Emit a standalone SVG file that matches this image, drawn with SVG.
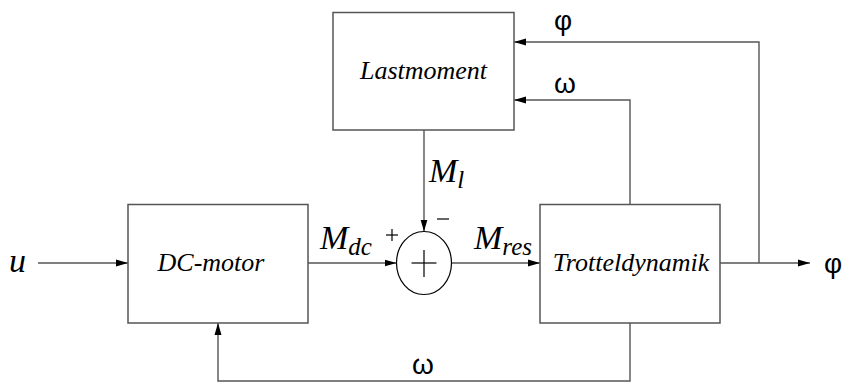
<svg xmlns="http://www.w3.org/2000/svg" width="844" height="383" viewBox="0 0 844 383">
  <defs>
    <marker id="arr" markerUnits="userSpaceOnUse" markerWidth="13" markerHeight="8" refX="12" refY="4" orient="auto">
      <path d="M0,0.5 L12,4 L0,7.5 Z" fill="#000"/>
    </marker>
  </defs>
  <style>
    .box { fill: #fff; stroke: #555; stroke-width: 1.5; }
    .wire { fill: none; stroke: #555; stroke-width: 1.4; }
    .lbl { font-family: "Liberation Serif", "Times New Roman", serif; font-style: italic; font-size: 26px; fill: #000; }
    .sym { font-family: "Liberation Serif", "Times New Roman", serif; font-style: italic; font-size: 34px; fill: #000; }
    .sub { font-size: 25px; }
    .greek { font-family: "Liberation Sans", Arial, sans-serif; font-size: 28px; fill: #000; }
  </style>

  <g id="connectors">
    <line class="wire" x1="38" y1="263" x2="128" y2="263" marker-end="url(#arr)"/>
    <line class="wire" x1="308" y1="263" x2="396.5" y2="263" marker-end="url(#arr)"/>
    <line class="wire" x1="451.5" y1="263" x2="540" y2="263" marker-end="url(#arr)"/>
    <line class="wire" x1="424" y1="130" x2="424" y2="231.5" marker-end="url(#arr)"/>
    <line class="wire" x1="720" y1="263" x2="810" y2="263" marker-end="url(#arr)"/>
    <polyline class="wire" points="759,263 759,42 514,42" marker-end="url(#arr)"/>
    <polyline class="wire" points="630,204 630,100 514,100" marker-end="url(#arr)"/>
    <polyline class="wire" points="630,323 630,381 218,381 218,323" marker-end="url(#arr)"/>
  </g>

  <g id="lastmoment">
    <rect class="box" x="333" y="12.5" width="181" height="117.5"/>
    <text class="lbl" x="423.5" y="79" text-anchor="middle">Lastmoment</text>
  </g>

  <g id="dc-motor">
    <rect class="box" x="128" y="204.5" width="180" height="118.5"/>
    <text class="lbl" x="211" y="271" text-anchor="middle">DC-motor</text>
  </g>

  <g id="trotteldynamik">
    <rect class="box" x="540" y="204.5" width="180" height="118.5"/>
    <text class="lbl" x="631" y="271" text-anchor="middle">Trotteldynamik</text>
  </g>

  <g id="sum">
    <ellipse cx="424" cy="263" rx="27.5" ry="31.5" fill="#fff" stroke="#000" stroke-width="1.2"/>
    <line x1="411.5" y1="263" x2="436.5" y2="263" stroke="#000" stroke-width="1.2"/>
    <line x1="424" y1="250" x2="424" y2="277" stroke="#000" stroke-width="1.2"/>
    <line x1="386" y1="235" x2="398" y2="235" stroke="#000" stroke-width="1.2"/>
    <line x1="392" y1="229" x2="392" y2="241" stroke="#000" stroke-width="1.2"/>
    <line x1="437" y1="219" x2="449" y2="219" stroke="#000" stroke-width="1.2"/>
  </g>

  <g id="labels">
    <text class="sym" x="9" y="272">u</text>
    <text class="sym" x="320" y="249">M<tspan class="sub" dy="6">dc</tspan></text>
    <text class="sym" x="429" y="182">M<tspan class="sub" dy="6">l</tspan></text>
    <text class="sym" x="474" y="249">M<tspan class="sub" dy="6">res</tspan></text>
    <text class="greek" x="563" y="30" text-anchor="middle">φ</text>
    <text class="greek" x="565" y="93" text-anchor="middle">ω</text>
    <text class="greek" x="423" y="374" text-anchor="middle">ω</text>
    <text class="greek" x="833" y="273" text-anchor="middle">φ</text>
  </g>
</svg>
